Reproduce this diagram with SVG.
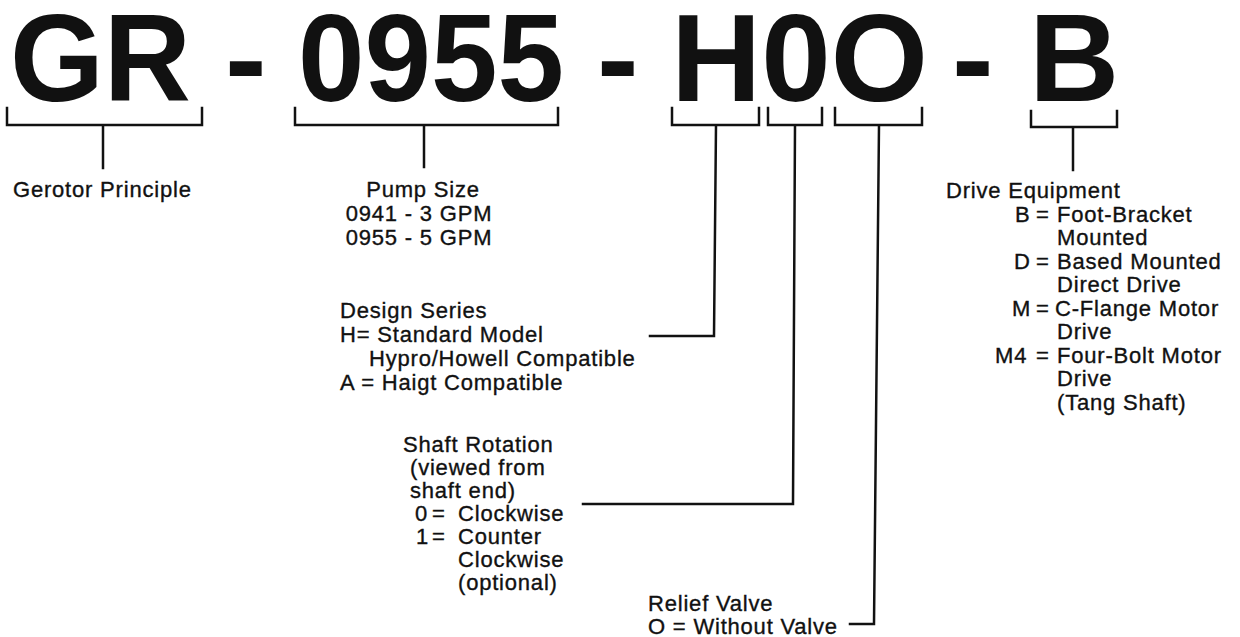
<svg xmlns="http://www.w3.org/2000/svg" width="1240" height="637" viewBox="0 0 1240 637">
<style>
.hdr{font-family:"Liberation Sans",Arial,Helvetica,sans-serif;font-weight:bold;font-size:125px;fill:#111}
.lbl{font-family:"Liberation Sans",Arial,Helvetica,sans-serif;font-size:22px;letter-spacing:0.8px;fill:#111;stroke:#111;stroke-width:0.35}
.ln{fill:none;stroke:#111;stroke-width:2.5;stroke-linejoin:miter;stroke-linecap:square}
</style>
<rect width="1240" height="637" fill="#fff"/>
<g id="header">
<text class="hdr" x="10" y="101" textLength="181" lengthAdjust="spacingAndGlyphs">GR</text>
<text class="hdr" x="225" y="101">-</text>
<text class="hdr" x="298" y="101" textLength="266" lengthAdjust="spacingAndGlyphs">0955</text>
<text class="hdr" x="597" y="101">-</text>
<text class="hdr" x="671" y="101">H0O</text>
<text class="hdr" x="952" y="101">-</text>
<text class="hdr" x="1029" y="101">B</text>
</g>
<g id="connectors">
<path class="ln" d="M7,108 V125 H202 V108 M103,125 V168"/>
<path class="ln" d="M295,108 V125 H558 V108 M424,125 V167"/>
<path class="ln" d="M672,108 V125 H759 V108 M716,125 L714,336 H650"/>
<path class="ln" d="M768,108 V125 H822 V108 M795,125 L793,504 H583"/>
<path class="ln" d="M835,108 V125 H922 V108 M879,125 L874,624 H850"/>
<path class="ln" d="M1031,111 V127 H1117 V111 M1073,127 V170"/>
</g>
<g id="gerotor">
<text class="lbl" x="13" y="197">Gerotor Principle</text>
</g>
<g id="pump-size">
<text class="lbl" x="423" y="197" text-anchor="middle">Pump Size</text>
<text class="lbl" x="419" y="221" text-anchor="middle">0941 - 3 GPM</text>
<text class="lbl" x="419" y="245" text-anchor="middle">0955 - 5 GPM</text>
</g>
<g id="design-series">
<text class="lbl" x="340" y="318">Design Series</text>
<text class="lbl" x="340" y="342">H= Standard Model</text>
<text class="lbl" x="369" y="366">Hypro/Howell Compatible</text>
<text class="lbl" x="340" y="390">A = Haigt Compatible</text>
</g>
<g id="shaft-rotation">
<text class="lbl" x="403" y="452">Shaft Rotation</text>
<text class="lbl" x="410" y="475">(viewed from</text>
<text class="lbl" x="410" y="498">shaft end)</text>
<text class="lbl" y="521"><tspan x="415">0</tspan><tspan x="432">=</tspan><tspan x="458">Clockwise</tspan></text>
<text class="lbl" y="544"><tspan x="416">1</tspan><tspan x="432">=</tspan><tspan x="458">Counter</tspan></text>
<text class="lbl" x="458" y="567">Clockwise</text>
<text class="lbl" x="458" y="590">(optional)</text>
</g>
<g id="relief-valve">
<text class="lbl" x="648" y="611">Relief Valve</text>
<text class="lbl" x="648" y="634">O = Without Valve</text>
</g>
<g id="drive-equipment">
<text class="lbl" x="946" y="198">Drive Equipment</text>
<text class="lbl" y="221.5"><tspan x="1015">B</tspan><tspan x="1036">=</tspan><tspan x="1057">Foot-Bracket</tspan></text>
<text class="lbl" x="1057" y="245">Mounted</text>
<text class="lbl" y="268.5"><tspan x="1014">D</tspan><tspan x="1036">=</tspan><tspan x="1057">Based Mounted</tspan></text>
<text class="lbl" x="1057" y="292">Direct Drive</text>
<text class="lbl" y="315.5"><tspan x="1012">M</tspan><tspan x="1036">=</tspan><tspan x="1055">C-Flange Motor</tspan></text>
<text class="lbl" x="1057" y="339">Drive</text>
<text class="lbl" y="362.5"><tspan x="995">M4</tspan><tspan x="1036">=</tspan><tspan x="1057">Four-Bolt Motor</tspan></text>
<text class="lbl" x="1057" y="386">Drive</text>
<text class="lbl" x="1057" y="409.5">(Tang Shaft)</text>
</g>
</svg>
